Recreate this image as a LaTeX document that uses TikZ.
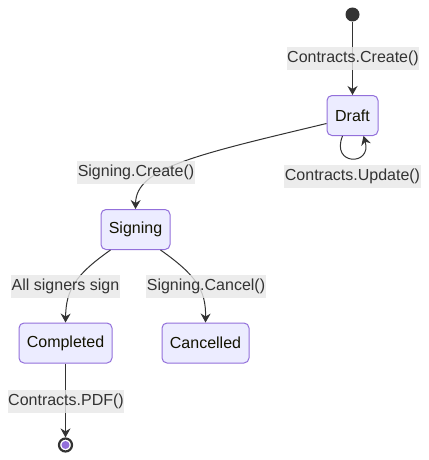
\documentclass[tikz,border=0pt]{standalone}
\usepackage{fontspec}
\setmainfont{Liberation Sans}
\usetikzlibrary{arrows.meta}
\definecolor{stfill}{HTML}{ECECFF}
\definecolor{stline}{HTML}{9370DB}
\definecolor{edgec}{HTML}{333333}
\definecolor{lblbg}{HTML}{E8E8E8}
\definecolor{txtc}{HTML}{131300}
\begin{document}
\begin{tikzpicture}[x=1pt,y=-1pt,
  statebox/.style={draw=stline,fill=stfill,line width=1pt,rounded corners=5pt,
    minimum height=40pt,inner sep=0pt,text=txtc,font=\fontsize{16}{19}\selectfont},
  lbl/.style={fill=lblbg,fill opacity=0.8,text opacity=1,text=edgec,inner xsep=0.5pt,
    inner ysep=0pt,minimum height=23pt,font=\fontsize{16}{19}\selectfont},
  edge/.style={draw=edgec,line width=1pt,-{Stealth[length=9pt,width=10pt,inset=3pt]}},
  startst/.style={circle,fill=edgec,minimum size=14pt,inner sep=0pt},
  endst/.style={circle,draw=edgec,fill=white,line width=2.2pt,minimum size=13pt,inner sep=0pt}
]
\useasboundingbox[fill=white] (0,0) rectangle (428,460);
% states
\node[startst] (start) at (352.5,14.5) {};
\node[statebox,minimum width=51pt] (draft) at (352.5,115.5) {Draft};
\node[statebox,minimum width=69pt] (signing) at (135.5,229.5) {Signing};
\node[statebox,minimum width=93pt] (completed) at (65.5,343) {Completed};
\node[statebox,minimum width=87pt] (cancelled) at (205.5,343) {Cancelled};
\node[endst] (end) at (65.5,445) {};
\fill[stline] (end.center) circle[radius=4pt];
% edges
\draw[edge] (start) -- (draft.north);
\draw[edge] ([xshift=-10pt]draft.south) .. controls ([xshift=-22pt,yshift=-30pt]draft.south) and ([xshift=20pt,yshift=-30pt]draft.south) .. ([xshift=11pt]draft.south);
\draw[edge] ([yshift=-8pt]draft.west) .. controls (195,155) and (136,168) .. (signing.north);
\draw[edge] ([xshift=-25pt]signing.south) .. controls (75,275) and (66,290) .. (completed.north);
\draw[edge] ([xshift=25pt]signing.south) .. controls (196,275) and (206,290) .. (cancelled.north);
\draw[edge] (completed.south) -- (end.north);
% labels
\node[lbl] (l1) at (353,58.5) {Contracts.Create()};
\node[lbl] (l2) at (352.5,176.5) {Contracts.Update()};
\node[lbl] (l3) at (136,172) {Signing.Create()};
\node[lbl] (l4) at (65.5,286.5) {All signers sign};
\node[lbl] (l5) at (206,286.5) {Signing.Cancel()};
\node[lbl] (l6) at (66,401.5) {Contracts.PDF()};
\end{tikzpicture}
\end{document}
